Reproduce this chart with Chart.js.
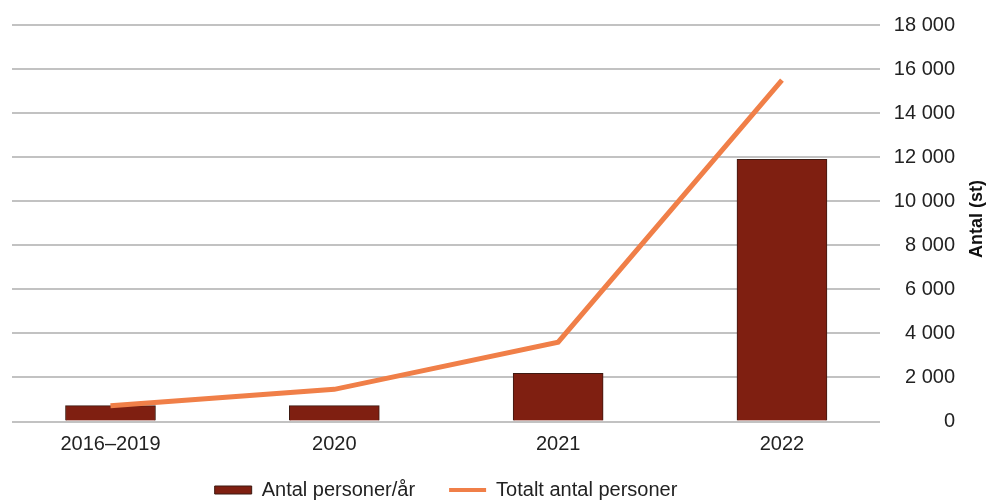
<!DOCTYPE html>
<html lang="sv">
<head>
<meta charset="utf-8">
<title>Antal personer</title>
<script src="https://cdn.jsdelivr.net/npm/chart.js"></script>
<style>
  html, body { margin: 0; padding: 0; background: #fff; }
  #wrap { width: 986px; height: 501px; }
</style>
</head>
<body>
<div id="wrap"><canvas id="chart" width="986" height="501"></canvas></div>
<script>
const categories = ["2016–2019", "2020", "2021", "2022"];
const personerPerAr = [720, 720, 2190, 11900];
const totaltPersoner = [720, 1460, 3600, 15500];
const yTicks = [0, 2000, 4000, 6000, 8000, 10000, 12000, 14000, 16000, 18000];

const BAR_COLOR = "#7f1f11";
const BAR_BORDER = "#3d1a12";
const LINE_COLOR = "#f07f48";
const GRID_COLOR = "#c2c2c2";
const TEXT_COLOR = "#222";

Chart.defaults.font.family = "'Liberation Sans', Arial, sans-serif";
Chart.defaults.font.size = 20;
Chart.defaults.color = TEXT_COLOR;

function formatThousands(v) {
  return String(v).replace(/\B(?=(\d{3})+(?!\d))/g, " ");
}

// y axis title reads bottom to top, so draw it ourselves
const axisTitle = {
  id: "axisTitle",
  afterDraw(chart) {
    const ctx = chart.ctx;
    ctx.save();
    ctx.translate(977, 219);
    ctx.rotate(-Math.PI / 2);
    ctx.font = "bold 18px 'Liberation Sans', Arial, sans-serif";
    ctx.fillStyle = "#111";
    ctx.textAlign = "center";
    ctx.textBaseline = "middle";
    ctx.fillText("Antal (st)", 0, 0);
    ctx.restore();
  },
};

// legend is centred under the plot, not under the whole canvas
const legendUnderPlot = {
  id: "legendUnderPlot",
  afterLayout(chart) {
    const lg = chart.legend;
    if (!lg) return;
    lg.left = chart.chartArea.left;
    lg.right = chart.chartArea.right;
    lg.width = lg.right - lg.left;
    lg.top = 446;
    lg.bottom = 510;
    lg.height = 64;
  },
};

new Chart(document.getElementById("chart"), {
  data: {
    datasets: [
      {
        type: "bar",
        label: "Antal personer/år",
        data: categories.map((c, i) => ({ x: i, y: personerPerAr[i] })),
        backgroundColor: BAR_COLOR,
        borderColor: BAR_BORDER,
        borderWidth: 1,
        barThickness: 90,
        order: 1,
      },
      {
        type: "line",
        label: "Totalt antal personer",
        data: categories.map((c, i) => ({ x: i, y: totaltPersoner[i] })),
        borderColor: LINE_COLOR,
        backgroundColor: LINE_COLOR,
        borderWidth: 5,
        pointRadius: 0,
        tension: 0,
        order: 0,
      },
    ],
  },
  options: {
    responsive: false,
    animation: false,
    layout: { padding: { left: 12, right: 31, top: 25, bottom: 0 } },
    scales: {
      x: {
        type: "linear",
        offset: false,
        min: -0.44,
        max: 3.438,
        grid: { display: false, drawTicks: false },
        border: { display: false },
        ticks: {
          stepSize: 1,
          includeBounds: false,
          autoSkip: false,
          maxRotation: 0,
          padding: 11,
          color: TEXT_COLOR,
          callback: (v) => (Number.isInteger(v) && categories[v] !== undefined ? categories[v] : ""),
        },
        afterFit: (scale) => { scale.height = 49.5; },
      },
      y: {
        position: "right",
        min: 0,
        max: yTicks[yTicks.length - 1],
        grid: { color: GRID_COLOR, lineWidth: 2, drawTicks: false },
        border: { display: false },
        afterBuildTicks: (scale) => { scale.ticks = yTicks.map((v) => ({ value: v })); },
        ticks: {
          padding: 10,
          crossAlign: "far",
          color: TEXT_COLOR,
          callback: (v) => formatThousands(v),
        },
        afterFit: (scale) => { scale.width = 75; },
      },
    },
    plugins: {
      tooltip: { enabled: false },
      legend: {
        position: "bottom",
        maxHeight: 30,
        labels: {
          usePointStyle: true,
          pointStyleWidth: 37,
          boxHeight: 8,
          padding: 34,
          color: TEXT_COLOR,
          sort: (a, b) => a.datasetIndex - b.datasetIndex,
          generateLabels: (chart) => {
            const items = Chart.defaults.plugins.legend.labels.generateLabels(chart);
            items.forEach((item) => {
              if (item.datasetIndex === 0) {
                item.pointStyle = "rect";
                item.fillStyle = BAR_COLOR;
                item.strokeStyle = BAR_BORDER;
                item.lineWidth = 1;
              } else {
                item.pointStyle = "line";
                item.strokeStyle = LINE_COLOR;
                item.lineWidth = 4;
              }
            });
            return items;
          },
        },
      },
    },
  },
  plugins: [axisTitle, legendUnderPlot],
});
</script>
</body>
</html>
